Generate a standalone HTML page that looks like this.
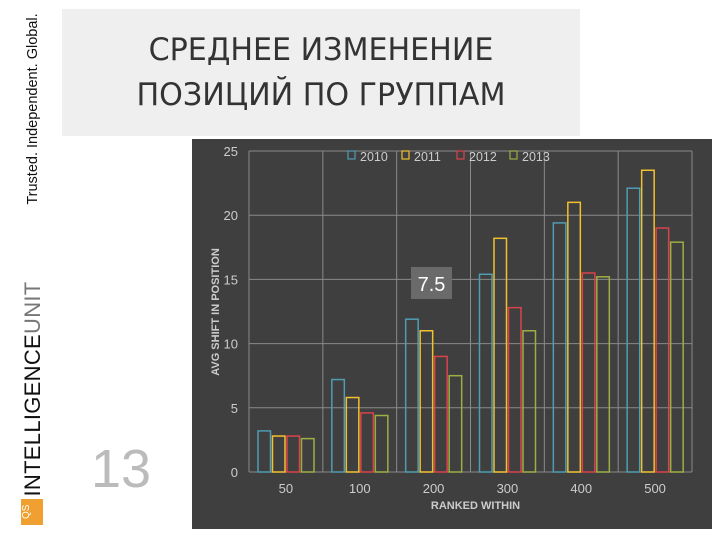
<!DOCTYPE html>
<html><head><meta charset="utf-8"><style>
body{margin:0;width:720px;height:540px;background:#fff;position:relative;overflow:hidden;font-family:"Liberation Sans","DejaVu Sans",sans-serif}
.abs{position:absolute}
</style></head><body>
<div class="abs" style="left:33px;top:109px;transform:translate(-50%,-50%) rotate(-90deg);white-space:nowrap;font-size:14.5px;color:#111">Trusted. Independent. Global.</div>
<div class="abs" style="left:21px;top:499px;width:22px;height:26px;background:#f0a030;color:#fff;font-size:10px;writing-mode:vertical-rl;transform:rotate(180deg);text-align:center">QS</div>
<div class="abs" style="left:33px;top:389px;transform:translate(-50%,-50%) rotate(-90deg);white-space:nowrap;font-size:22px;color:#111;letter-spacing:0.3px">INTELLIGENCE<span style="color:#777">UNIT</span></div>
<div class="abs" style="left:62px;top:9px;width:518px;height:127px;background:#efefef"></div>
<div class="abs" style="left:62px;top:28px;width:518px;text-align:center;font-family:'DejaVu Sans Condensed','Liberation Sans',sans-serif;font-size:31px;line-height:45px;color:#333;transform:scaleX(1.08)">СРЕДНЕЕ ИЗМЕНЕНИЕ<br>ПОЗИЦИЙ ПО ГРУППАМ</div>
<div class="abs" style="left:91px;top:438px;font-size:54px;color:#bbb">13</div>
<svg class="abs" style="left:0;top:0" width="720" height="540">
<rect x="192" y="139" width="520" height="390" fill="#3f3f3f"/>
<g id="g"></g>
</svg>
<script>
const categories=["50","100","200","300","400","500"];
const seriesNames=["2010","2011","2012","2013"];
const s2010=[3.2,7.2,11.9,15.4,19.4,22.1];
const s2011=[2.8,5.8,11.0,18.2,21.0,23.5];
const s2012=[2.8,4.6,9.0,12.8,15.5,19.0];
const s2013=[2.6,4.4,7.5,11.0,15.2,17.9];
const yTicks=[0,5,10,15,20,25];
const colors=["#4e9db3","#f2c12e","#d9434c","#9bb043"];
const series=[s2010,s2011,s2012,s2013];
const L=249,R=692,T=151,B=472,ymax=25;
const y=v=>B-(v/ymax)*(B-T);
const gw=(R-L)/categories.length;
const x=i=>L+i*gw;
const g=document.getElementById('g');
const NS="http://www.w3.org/2000/svg";
function mk(t,a){const e=document.createElementNS(NS,t);for(const k in a)e.setAttribute(k,a[k]);g.appendChild(e);return e;}
yTicks.forEach(t=>{
 const ln=mk('line',{x1:L,x2:R,y1:y(t),y2:y(t),stroke:'#8a8a8a','stroke-width':1});
 
 
 const tx=mk('text',{x:238,y:y(t)+5,'text-anchor':'end',fill:'#ccc','font-size':13});
 tx.textContent=t;
 
 
});
for(let i=0;i<=categories.length;i++){
 const ln=mk('line',{x1:x(i),x2:x(i),y1:T,y2:B,stroke:'#8a8a8a','stroke-width':1});
 
 
}
const bw=12.5,step=14.5,pad=9;
categories.forEach((c,i)=>{
 series.forEach((s,j)=>{
  const bx=x(i)+pad+j*step;
  const r=mk('rect',{x:bx,y:y(s[i]),width:bw,height:B-y(s[i]),fill:'none',stroke:colors[j],'stroke-width':1.5});
  
  
 });
 const tx=mk('text',{x:x(i)+gw/2,y:493,'text-anchor':'middle',fill:'#ccc','font-size':13});
 tx.textContent=c;
 
 
});
const xt=mk('text',{x:(L+R)/2+5,y:509,'text-anchor':'middle',fill:'#ccc','font-size':11,'font-weight':'bold'});
xt.textContent='RANKED WITHIN';


const yt=mk('text',{x:0,y:0,'text-anchor':'middle',fill:'#ccc','font-size':11,'font-weight':'bold',transform:'translate(219,312) rotate(-90)'});
yt.textContent='AVG SHIFT IN POSITION';


const lx=[348,402,457,510];
seriesNames.forEach((n,j)=>{
 const r=mk('rect',{x:lx[j],y:151,width:7,height:8,fill:'none',stroke:colors[j],'stroke-width':1.2});
 
 
 const t=mk('text',{x:lx[j]+12,y:161,fill:'#ccc','font-size':12.5});
 t.textContent=n;
 
 
});
const tb=mk('rect',{x:411,y:267,width:41,height:32,fill:'#6a6a6a'});


const tt=mk('text',{x:431.5,y:291,'text-anchor':'middle',fill:'#fff','font-size':20});
tt.textContent='7.5';


</script>
</body></html>
